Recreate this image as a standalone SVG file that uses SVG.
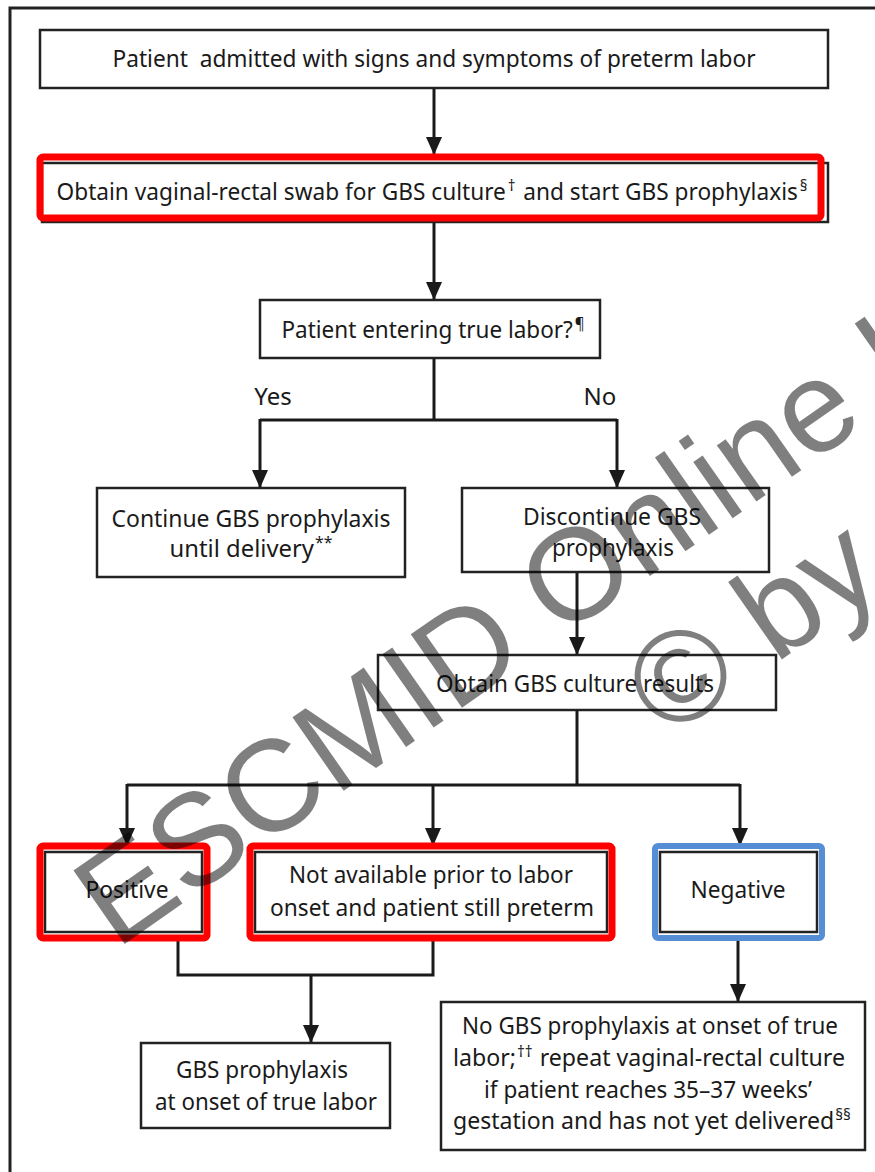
<svg xmlns="http://www.w3.org/2000/svg" width="875" height="1172" viewBox="0 0 875 1172">
  <style>
    .box { fill: #fff; stroke: #222; stroke-width: 2.5; }
    .hl-red { fill: none; stroke: #ff0000; stroke-width: 7; }
    .hl-blue { fill: none; stroke: #558ed5; stroke-width: 6; }
    .lbl { font-family: "Noto Sans", "Liberation Sans", sans-serif; font-size: 24px; fill: #1a1a1a; text-anchor: middle; }
    .sup { font-size: 16px; }
    .wire { fill: none; stroke: #1a1a1a; stroke-width: 3; }
    .wm { font-family: "Liberation Sans", Arial, sans-serif; font-size: 130px; fill: #000; fill-opacity: 0.5; }
  </style>
  <defs>
    <marker id="head" viewBox="0 0 18 16" refX="18" refY="8" markerWidth="18" markerHeight="16" markerUnits="userSpaceOnUse" orient="auto">
      <path d="M0,0 L18,8 L0,16 Z" fill="#1a1a1a"/>
    </marker>
  </defs>

  <rect width="875" height="1172" fill="#fff"/>
  <!-- outer frame -->
  <path d="M10,1172 V8 H875" fill="none" stroke="#222" stroke-width="3"/>

  <!-- connectors -->
  <g id="connectors">
    <path class="wire" d="M434,88 V155" marker-end="url(#head)"/>
    <path class="wire" d="M434,218 V163"/>
    <path class="wire" d="M434,222 V300" marker-end="url(#head)"/>
    <path class="wire" d="M434,358 V420 M260,420 H617"/>
    <path class="wire" d="M260,419 V488" marker-end="url(#head)"/>
    <path class="wire" d="M617,419 V488" marker-end="url(#head)"/>
    <path class="wire" d="M577,572 V655" marker-end="url(#head)"/>
    <path class="wire" d="M577,710 V785 M127,785 H740"/>
    <path class="wire" d="M127,784 V846" marker-end="url(#head)"/>
    <path class="wire" d="M433,784 V846" marker-end="url(#head)"/>
    <path class="wire" d="M740,784 V846" marker-end="url(#head)"/>
    <path class="wire" d="M178,938 V975 H433 V938"/>
    <path class="wire" d="M311,975 V1043" marker-end="url(#head)"/>
    <path class="wire" d="M738,938 V1002" marker-end="url(#head)"/>
  </g>

  <g id="admitted">
    <rect class="box" x="40" y="30" width="788" height="58"/>
    <text class="lbl" x="434" y="67" xml:space="preserve" textLength="643" lengthAdjust="spacingAndGlyphs">Patient  admitted with signs and symptoms of preterm labor</text>
  </g>

  <g id="swab">
    <rect class="box" x="42" y="163" width="786" height="59"/>
    <rect class="hl-red" x="40" y="157" width="781" height="61" rx="3"/>
    <text class="lbl" x="432" y="200" textLength="751" lengthAdjust="spacingAndGlyphs">Obtain vaginal-rectal swab for GBS culture<tspan class="sup" dx="2" dy="-9">†</tspan><tspan dx="2" dy="9"> and start GBS prophylaxis</tspan><tspan class="sup" dx="2" dy="-9">§</tspan></text>
  </g>

  <g id="true-labor">
    <rect class="box" x="260" y="300" width="340" height="58"/>
    <text class="lbl" x="433" y="338" textLength="303" lengthAdjust="spacingAndGlyphs">Patient entering true labor?<tspan class="sup" dx="2" dy="-9">¶</tspan></text>
  </g>

  <g id="branch-labels">
    <text class="lbl" x="273" y="405">Yes</text>
    <text class="lbl" x="600" y="405">No</text>
  </g>

  <g id="continue">
    <rect class="box" x="97" y="488" width="308" height="89"/>
    <text class="lbl" x="251" y="527" textLength="279" lengthAdjust="spacingAndGlyphs">Continue GBS prophylaxis</text>
    <text class="lbl" x="251" y="557" textLength="163" lengthAdjust="spacingAndGlyphs">until delivery<tspan class="sup" dx="1" dy="-9">**</tspan></text>
  </g>

  <g id="discontinue">
    <rect class="box" x="462" y="488" width="307" height="84"/>
    <text class="lbl" x="612" y="525" textLength="178" lengthAdjust="spacingAndGlyphs">Discontinue GBS</text>
    <text class="lbl" x="613" y="556" textLength="122" lengthAdjust="spacingAndGlyphs">prophylaxis</text>
  </g>

  <g id="culture-results">
    <rect class="box" x="378" y="655" width="398" height="55"/>
    <text class="lbl" x="575" y="692" textLength="278" lengthAdjust="spacingAndGlyphs">Obtain GBS culture results</text>
  </g>

  <g id="positive">
    <rect class="box" x="45" y="852" width="157" height="80"/>
    <rect class="hl-red" x="40" y="846" width="167" height="92" rx="3"/>
    <text class="lbl" x="127" y="898" textLength="83" lengthAdjust="spacingAndGlyphs">Positive</text>
  </g>

  <g id="not-available">
    <rect class="box" x="255" y="852" width="352" height="80"/>
    <rect class="hl-red" x="250" y="846" width="362" height="92" rx="3"/>
    <text class="lbl" x="431" y="883" textLength="284" lengthAdjust="spacingAndGlyphs">Not available prior to labor</text>
    <text class="lbl" x="432" y="916" textLength="324" lengthAdjust="spacingAndGlyphs">onset and patient still preterm</text>
  </g>

  <g id="negative">
    <rect class="box" x="660" y="852" width="157" height="80"/>
    <rect class="hl-blue" x="655" y="846" width="167" height="92" rx="3"/>
    <text class="lbl" x="738" y="898" textLength="95" lengthAdjust="spacingAndGlyphs">Negative</text>
  </g>

  <g id="prophylaxis-onset">
    <rect class="box" x="141" y="1043" width="249" height="85"/>
    <text class="lbl" x="262" y="1078" textLength="172" lengthAdjust="spacingAndGlyphs">GBS prophylaxis</text>
    <text class="lbl" x="266" y="1110" textLength="222" lengthAdjust="spacingAndGlyphs">at onset of true labor</text>
  </g>

  <g id="no-prophylaxis">
    <rect class="box" x="441" y="1002" width="424" height="148"/>
    <text class="lbl" x="650" y="1034" textLength="376" lengthAdjust="spacingAndGlyphs">No GBS prophylaxis at onset of true</text>
    <text class="lbl" x="649" y="1066" textLength="392" lengthAdjust="spacingAndGlyphs">labor;<tspan class="sup" dx="1" dy="-9">††</tspan><tspan dx="1" dy="9"> repeat vaginal-rectal culture</tspan></text>
    <text class="lbl" x="648" y="1098" textLength="328" lengthAdjust="spacingAndGlyphs">if patient reaches 35–37 weeks’</text>
    <text class="lbl" x="652" y="1129" textLength="398" lengthAdjust="spacingAndGlyphs">gestation and has not yet delivered<tspan class="sup" dx="1" dy="-9">§§</tspan></text>
  </g>

  <!-- watermark overlay -->
  <g id="watermark">
    <text class="wm" x="116" y="950" transform="rotate(-35 116 950)">ESCMID Online L</text>
    <text class="wm" x="667" y="740" transform="rotate(-35 667 740)">© by</text>
  </g>
</svg>
